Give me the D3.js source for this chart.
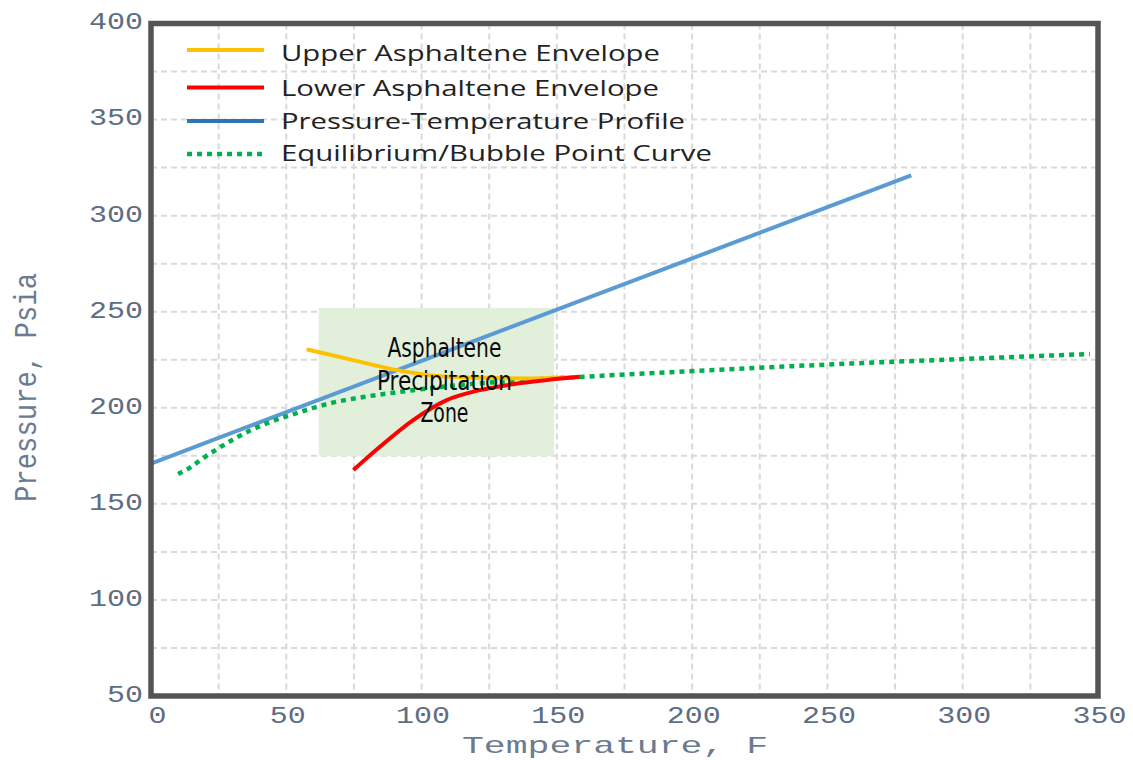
<!DOCTYPE html>
<html>
<head>
<meta charset="utf-8">
<script src="https://cdn.jsdelivr.net/npm/d3@7"></script>
<style>
  html, body { margin: 0; padding: 0; background: #ffffff; }
  svg { display: block; }
</style>
</head>
<body>
<svg id="chart" width="1133" height="760"></svg>
<script>
// ---------------- DATA ----------------
const xTicks = [0, 50, 100, 150, 200, 250, 300, 350];
const yTicks = [50, 100, 150, 200, 250, 300, 350, 400];
const xGrid = [25, 50, 75, 100, 125, 150, 175, 200, 225, 250, 275, 300, 325];
const yGrid = [75, 100, 125, 150, 175, 200, 225, 250, 275, 300, 325, 350, 375];

const xTitle = "Temperature,  F";
const yTitle = "Pressure, Psia";

const legendLabels = [
  "Upper Asphaltene Envelope",
  "Lower Asphaltene Envelope",
  "Pressure-Temperature Profile",
  "Equilibrium/Bubble Point Curve"
];

// Upper Asphaltene Envelope
const upperT = [57.5, 72, 91, 103, 121.5, 140, 158.5];
const upperP = [230.4, 225.7, 219.6, 217.0, 215.6, 215.3, 216.2];

// Lower Asphaltene Envelope
const lowerT = [74.8, 84.6, 96.9, 109.3, 121.6, 133.9, 146.2, 158.5];
const lowerP = [167.6, 179.7, 193.6, 204.0, 209.2, 212.3, 214.4, 216.1];

// Pressure-Temperature Profile
const profileT = [0, 281];
const profileP = [171, 321];

// Equilibrium / Bubble Point Curve
const bubbleT = [10, 14, 19, 25, 31, 37, 48, 55, 66, 78, 91, 103, 122, 134, 146, 158, 171, 199, 258, 299, 347];
const bubbleP = [165.5, 168.5, 173.5, 179, 184, 188.4, 194.6, 197.7, 202.3, 205.5, 208.1, 210.2, 212.8, 213.9, 215.2, 216, 217, 219, 223, 225.3, 228];

// Asphaltene precipitation zone box
const zoneT = [62, 149];
const zoneP = [175, 252];
const zoneLabel = ["Asphaltene", "Precipitation", "Zone"];

// ---------------- STYLE / LAYOUT ----------------
const colors = {
  upper: "#FFC000",
  lower: "#FF0000",
  profile: "#5B9BD5",
  profileLegend: "#2E75B6",
  bubble: "#00B050",
  zone: "#E2EFDA",
  grid: "#d9d9d9",
  frame: "#555555",
  tick: "#5d6d84",
  title: "#6c7b90"
};

const svg = d3.select("#chart");
const x = d3.scaleLinear().domain([0, 350]).range([151, 1098]);
const y = d3.scaleLinear().domain([50, 400]).range([696, 23.5]);

// grid
const grid = svg.append("g");
grid.selectAll("line.v").data(xGrid).join("line")
  .attr("x1", d => x(d)).attr("x2", d => x(d))
  .attr("y1", y(400)).attr("y2", y(50))
  .attr("stroke", colors.grid).attr("stroke-width", 2)
  .attr("stroke-dasharray", "6,4");
grid.selectAll("line.h").data(yGrid).join("line")
  .attr("x1", x(0)).attr("x2", x(350))
  .attr("y1", d => y(d)).attr("y2", d => y(d))
  .attr("stroke", colors.grid).attr("stroke-width", 2)
  .attr("stroke-dasharray", "6,4");

// zone box
svg.append("rect")
  .attr("x", x(zoneT[0])).attr("y", y(zoneP[1]))
  .attr("width", x(zoneT[1]) - x(zoneT[0]))
  .attr("height", y(zoneP[0]) - y(zoneP[1]))
  .attr("fill", colors.zone);

// lines
const line = d3.line().x(d => x(d[0])).y(d => y(d[1])).curve(d3.curveMonotoneX);
const zip = (a, b) => a.map((v, i) => [v, b[i]]);

svg.append("path").datum(zip(profileT, profileP))
  .attr("d", line).attr("fill", "none")
  .attr("stroke", colors.profile).attr("stroke-width", 4);

svg.append("path").datum(zip(bubbleT, bubbleP))
  .attr("d", line).attr("fill", "none")
  .attr("stroke", colors.bubble).attr("stroke-width", 4.5)
  .attr("stroke-dasharray", "5,5");

svg.append("path").datum(zip(upperT, upperP))
  .attr("d", line).attr("fill", "none")
  .attr("stroke", colors.upper).attr("stroke-width", 4);

svg.append("path").datum(zip(lowerT, lowerP))
  .attr("d", line).attr("fill", "none")
  .attr("stroke", colors.lower).attr("stroke-width", 4);

// zone text
const zoneBase = [357, 389.5, 421.5];
const zoneWidth = [114, 135, 48];
svg.append("g").selectAll("text").data(zoneLabel).join("text")
  .attr("x", (x(zoneT[0]) + x(zoneT[1])) / 2 + 8)
  .attr("y", (d, i) => zoneBase[i])
  .attr("text-anchor", "middle")
  .attr("textLength", (d, i) => zoneWidth[i])
  .attr("lengthAdjust", "spacingAndGlyphs")
  .style("font-family", "'Liberation Sans Narrow', 'DejaVu Sans Condensed', 'Liberation Sans', sans-serif")
  .style("font-size", "26px")
  .style("font-weight", "500")
  .style("fill", "#0a0a0a")
  .text(d => d);

// frame
svg.append("rect")
  .attr("x", x(0)).attr("y", y(400))
  .attr("width", x(350) - x(0)).attr("height", y(50) - y(400))
  .attr("fill", "none").attr("stroke", colors.frame).attr("stroke-width", 5.5);

// axes
const yAxis = svg.append("g").attr("transform", `translate(${x(0)},0)`)
  .call(d3.axisLeft(y).tickValues(yTicks).tickSize(0).tickPadding(8));
yAxis.select(".domain").remove();
yAxis.selectAll("text")
  .attr("dy", "0.32em").attr("y", -2)
  .attr("textLength", d => String(d).length * 18)
  .attr("lengthAdjust", "spacingAndGlyphs")
  .style("font-family", "'Liberation Mono', 'DejaVu Sans Mono', monospace")
  .style("font-size", "23px")
  .style("fill", colors.tick);

const xAxis = svg.append("g").attr("transform", `translate(0,${y(50)})`)
  .call(d3.axisBottom(x).tickValues(xTicks).tickSize(0).tickPadding(11));
xAxis.select(".domain").remove();
xAxis.selectAll("text")
  .attr("x", d => d === 0 ? 6 : 1)
  .attr("textLength", d => String(d).length * 18)
  .attr("lengthAdjust", "spacingAndGlyphs")
  .style("font-family", "'Liberation Mono', 'DejaVu Sans Mono', monospace")
  .style("font-size", "23px")
  .style("fill", colors.tick);

// axis titles
svg.append("text")
  .attr("x", 615).attr("y", 753)
  .attr("text-anchor", "middle")
  .attr("textLength", 306).attr("lengthAdjust", "spacingAndGlyphs")
  .style("font-family", "'Liberation Mono', 'DejaVu Sans Mono', monospace")
  .style("font-size", "24px")
  .style("fill", colors.title)
  .text(xTitle);

svg.append("text")
  .attr("transform", "translate(36,387.5) rotate(-90)")
  .attr("text-anchor", "middle")
  .attr("textLength", 229).attr("lengthAdjust", "spacingAndGlyphs")
  .style("font-family", "'Liberation Mono', 'DejaVu Sans Mono', monospace")
  .style("font-size", "31px")
  .style("fill", colors.title)
  .text(yTitle);

// legend
const legendColors = [colors.upper, colors.lower, colors.profileLegend, colors.bubble];
const legendDash = [null, null, null, "5,5"];
const legendLineY = [50, 87.5, 121, 154];
const legendTextY = [61, 95.5, 128.5, 160.5];
const legendWidth = [379, 378, 404, 431];
const lg = svg.append("g");
lg.selectAll("line").data(legendLabels).join("line")
  .attr("x1", 187).attr("x2", 264)
  .attr("y1", (d, i) => legendLineY[i]).attr("y2", (d, i) => legendLineY[i])
  .attr("stroke", (d, i) => legendColors[i])
  .attr("stroke-width", (d, i) => i === 3 ? 4.5 : 4)
  .attr("stroke-dasharray", (d, i) => legendDash[i]);
lg.selectAll("text").data(legendLabels).join("text")
  .attr("x", 281)
  .attr("y", (d, i) => legendTextY[i])
  .attr("textLength", (d, i) => legendWidth[i])
  .attr("lengthAdjust", "spacingAndGlyphs")
  .style("font-family", "'Open Sans', 'Noto Sans', sans-serif")
  .style("font-size", "21px")
  .style("fill", "#222")
  .text(d => d);
</script>
</body>
</html>
